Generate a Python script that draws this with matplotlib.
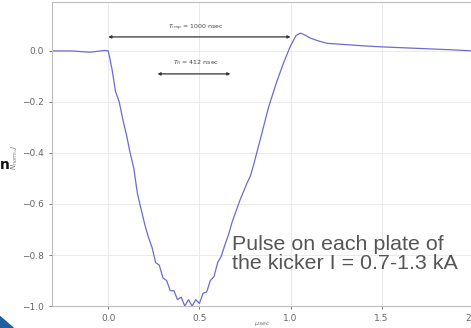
import matplotlib
matplotlib.use("Agg")
import matplotlib.pyplot as plt
from matplotlib.patches import Polygon

# pulse shape (time in usec, normalised amplitude)
t = [-0.31, -0.2, -0.1, -0.02, 0.0, 0.02, 0.04, 0.06, 0.08, 0.10, 0.12, 0.14,
     0.16, 0.18, 0.20, 0.22, 0.24, 0.26, 0.28, 0.30, 0.32, 0.34, 0.36, 0.38,
     0.40, 0.42, 0.44, 0.46, 0.48, 0.50, 0.52, 0.54, 0.56, 0.58, 0.60, 0.62,
     0.64, 0.66, 0.68, 0.70, 0.72, 0.74, 0.76, 0.78, 0.80, 0.84, 0.88, 0.92,
     0.96, 1.00, 1.03, 1.055, 1.08, 1.11, 1.15, 1.2, 1.3, 1.4, 1.5, 1.6, 1.7,
     1.8, 1.9, 2.0, 2.05]
amp = [0.0, 0.0, -0.005, 0.002, 0.0, -0.07, -0.16, -0.20, -0.27, -0.33, -0.40, -0.46,
       -0.56, -0.62, -0.68, -0.73, -0.77, -0.83, -0.84, -0.89, -0.90, -0.94, -0.94, -0.975,
       -0.965, -1.0, -0.975, -1.0, -0.975, -0.99, -0.95, -0.945, -0.90, -0.885, -0.83, -0.805,
       -0.76, -0.72, -0.67, -0.63, -0.59, -0.555, -0.52, -0.49, -0.44, -0.33, -0.22, -0.13,
       -0.05, 0.02, 0.06, 0.07, 0.062, 0.05, 0.04, 0.03, 0.025, 0.02, 0.016, 0.013, 0.01,
       0.007, 0.004, 0.0, 0.0]

xticks = [0.0, 0.5, 1.0, 1.5, 2.0]
yticks = [-1.0, -0.8, -0.6, -0.4, -0.2, 0.0]

fig = plt.figure(figsize=(4.71, 3.28), dpi=100)
ax = fig.add_axes([0.110, 0.067, 0.913, 0.927])

ax.plot(t, amp, color="#6b6bd6", lw=0.9)

ax.set_xlim(-0.31, 2.05)
ax.set_ylim(-1.0, 0.192)
ax.set_xticks(xticks)
ax.set_yticks(yticks)
ax.grid(True, color="#ebebeb", lw=0.7)
for s in ax.spines.values():
    s.set_color("#bdbdbd")
ax.tick_params(labelsize=6.5, colors="#666666", length=2, width=0.6)
ax.set_xlabel("$\\mu sec$", fontsize=4.5, color="#777777")
ax.xaxis.set_label_coords(0.49, -0.045)
ax.set_ylabel("$N_{norm}, J$", fontsize=5, color="#777777")
ax.yaxis.set_label_coords(-0.075, 0.49)

# pulse length markers
ax.annotate("", xy=(0.0, 0.055), xytext=(1.0, 0.055),
            arrowprops=dict(arrowstyle="<|-|>", color="#333333", lw=0.9,
                            mutation_scale=4, shrinkA=0, shrinkB=0))
ax.text(0.48, 0.09, "$T_{imp}$ = 1000 nsec", fontsize=4.5, color="#444444",
        ha="center", va="center")
ax.annotate("", xy=(0.27, -0.09), xytext=(0.67, -0.09),
            arrowprops=dict(arrowstyle="<|-|>", color="#333333", lw=0.9,
                            mutation_scale=4, shrinkA=0, shrinkB=0))
ax.text(0.48, -0.047, "$T_{fl}$ = 412 nsec", fontsize=4.5, color="#444444",
        ha="center", va="center")

fig.text(232 / 471, 1 - 254 / 328, "Pulse on each plate of\nthe kicker I = 0.7-1.3 kA",
         fontsize=15.4, family="Liberation Sans", color="#555555",
         ha="left", va="center", linespacing=1.05)

# bits of the slide around the chart
fig.text(0.0, 1 - 165 / 328, "n", fontsize=10, fontweight="bold", color="#111111",
         ha="left", va="center")
fig.patches.append(Polygon([[0, 0], [0.028, 0], [0, 0.035]], closed=True,
                           transform=fig.transFigure, color="#1f5fa0"))

fig.savefig("out.png", dpi=100)
